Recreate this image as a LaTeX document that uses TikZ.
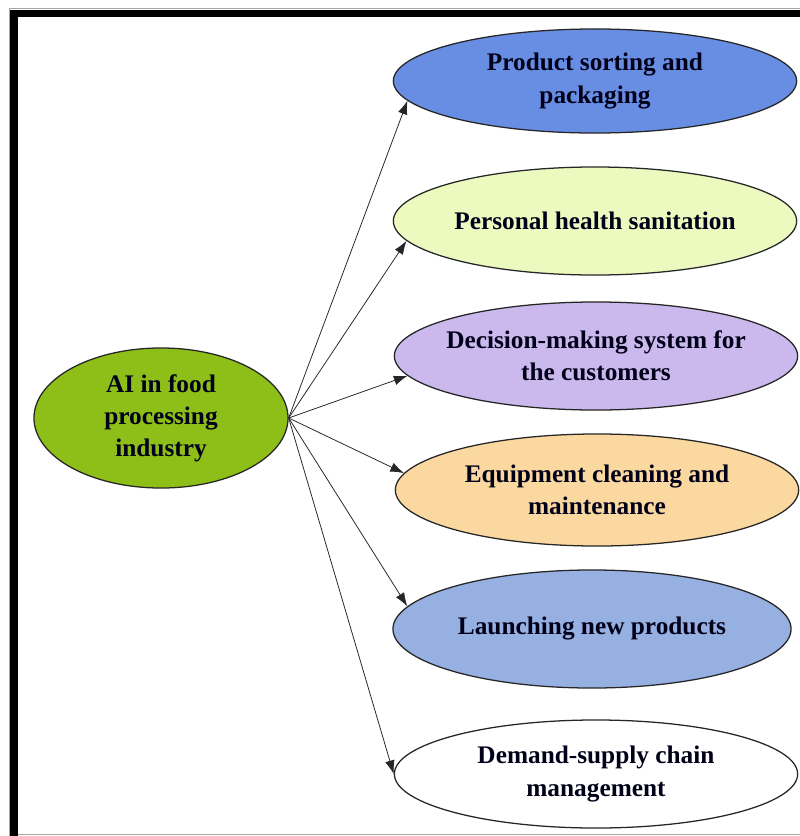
\documentclass[tikz,border=0pt]{standalone}
\usepackage{fontspec}
\setmainfont{Liberation Serif}
\usetikzlibrary{shapes.geometric}
\usetikzlibrary{arrows.meta}

\definecolor{hubgreen}{RGB}{141,191,24}
\definecolor{sortblue}{RGB}{104,142,228}
\definecolor{healthlime}{RGB}{236,250,192}
\definecolor{decililac}{RGB}{203,184,236}
\definecolor{equippeach}{RGB}{250,216,160}
\definecolor{launchblue}{RGB}{150,176,226}

\begin{document}
\begin{tikzpicture}[x=0.025cm,y=-0.025cm,
  blob/.style={ellipse,draw=black!85,line width=0.9pt,inner sep=0pt,align=center,
    font=\fontsize{18}{22.8}\selectfont\bfseries,text=black!90!blue},
  task/.style={blob,minimum width=10.08cm,minimum height=2.75cm},
  link/.style={-{Latex[length=3.4mm,width=2.4mm]},line width=0.55pt,black!85}]
\useasboundingbox (0,0) rectangle (800,836);
\draw[fill=white,draw=none] (0,0) rectangle (800,836);
\draw[black!35,very thin] (9,836) -- (9,8) -- (800,8);
\draw[black!35,thin] (17,834) -- (800,834);
\draw[black,line width=0.175cm] (14,836) -- (14,13.5) -- (800,13.5);

\node[blob,fill=hubgreen,minimum width=6.35cm,minimum height=3.5cm] (hub) at (161,418) {AI in food\\processing\\industry};

\node[task,fill=sortblue,minimum height=2.6cm] (sort) at (595,81) {Product sorting and\\packaging};
\node[task,fill=healthlime,minimum height=2.7cm] (health) at (595,221) {Personal health sanitation};
\node[task,fill=decililac,minimum height=2.7cm,inner xsep=-0.3cm] (decide) at (596,356) {Decision-making system for\\the customers};
\node[task,fill=equippeach,minimum height=2.8cm] (equip) at (597,490) {Equipment cleaning and\\maintenance};
\node[task,fill=launchblue,minimum height=2.95cm,minimum width=9.95cm] (launch) at (592,629) {Launching new products};
\node[task,fill=white,minimum height=2.7cm] (demand) at (596,774) {Demand-supply chain\\management};

\draw[link] (hub.east) -- (sort.186);
\draw[link] (hub.east) -- (health.186);
\draw[link] (hub.east) -- (decide.186);
\draw[link] (hub.east) -- (equip.175);
\draw[link] (hub.east) -- (launch.173);
\draw[link] (hub.east) -- (demand.180);

\end{tikzpicture}
\end{document}
